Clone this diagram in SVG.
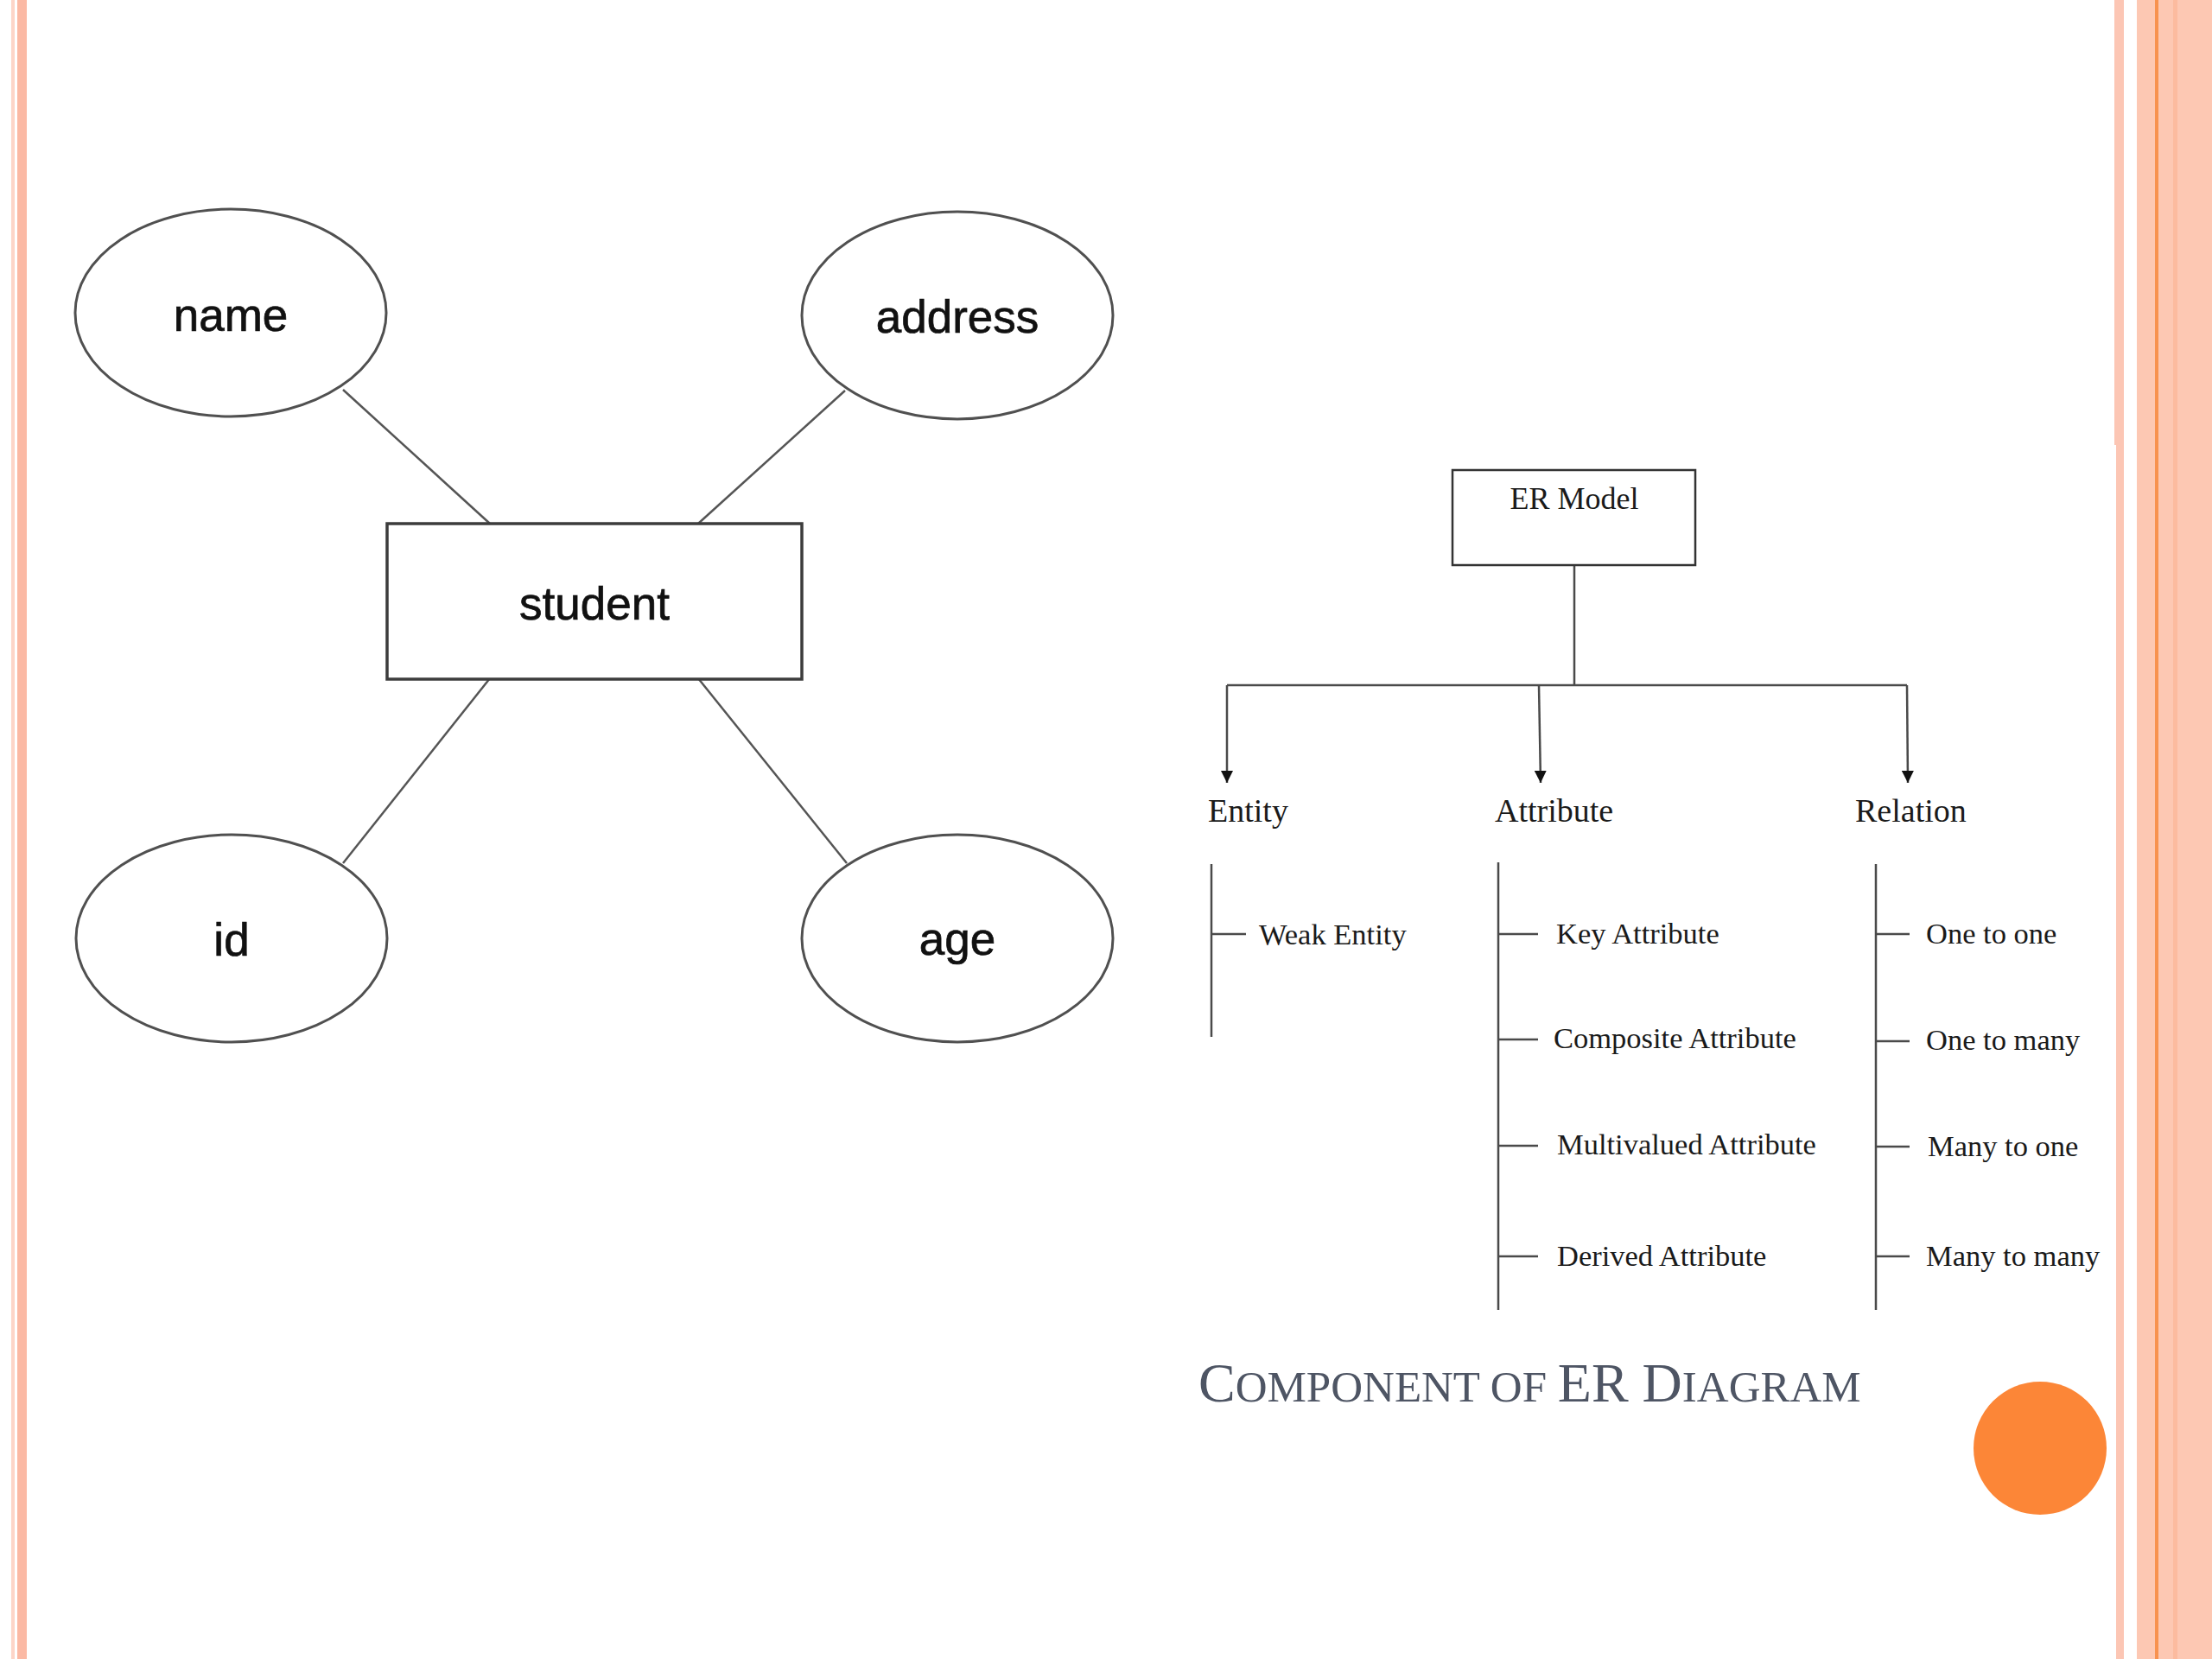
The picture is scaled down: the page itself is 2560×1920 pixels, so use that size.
<svg xmlns="http://www.w3.org/2000/svg" width="2560" height="1920" viewBox="0 0 2560 1920">
<style>
.ell{fill:#fff;stroke:#505050;stroke-width:3}
.box{fill:#fff;stroke:#3c3c3c;stroke-width:3.5}
.sans{font-family:"Liberation Sans",Arial,sans-serif;font-size:53px;fill:#111;stroke:#111;stroke-width:0.7}
.ser{font-family:"Liberation Serif","Times New Roman",serif;fill:#1a1a1a}
.lvl{font-size:38px}
.sub{font-size:34.5px}
.ln{stroke:#4a4a4a;stroke-width:2.5;fill:none}
.er{stroke:#555;stroke-width:2.5;fill:none}
</style>
<defs>
<marker id="ah" viewBox="0 0 14 14" refX="14" refY="7" markerWidth="14" markerHeight="14" markerUnits="userSpaceOnUse" orient="auto">
<path d="M0,0 L14,7 L0,14 z" fill="#111"/>
</marker>
</defs>
<rect width="2560" height="1920" fill="#fff"/>
<g id="borders">
<rect x="13" y="0" width="4" height="1920" fill="#fdd5c8"/>
<rect x="20" y="0" width="11" height="1920" fill="#fbb9a4"/>
<rect x="2447" y="0" width="11" height="515" fill="#fcc6b4"/>
<rect x="2449" y="515" width="9" height="1405" fill="#fcc6b4"/>
<rect x="2473" y="0" width="87" height="1920" fill="#fdc8b3"/>
<rect x="2494" y="0" width="4" height="1920" fill="#f8924f"/>
<rect x="2515" y="0" width="5" height="1920" fill="#fcbb9f"/>
</g>
<g id="er-connectors">
<line class="er" x1="397" y1="451" x2="567" y2="606"/>
<line class="er" x1="978" y1="452" x2="808" y2="606"/>
<line class="er" x1="567" y1="785" x2="397" y2="999"/>
<line class="er" x1="808" y1="785" x2="980" y2="999"/>
</g>
<g id="name"><ellipse class="ell" cx="267" cy="362" rx="180" ry="120"/><text class="sans" x="267" y="383" text-anchor="middle">name</text></g>
<g id="address"><ellipse class="ell" cx="1108" cy="365" rx="180" ry="120"/><text class="sans" x="1108" y="385" text-anchor="middle">address</text></g>
<g id="id"><ellipse class="ell" cx="268" cy="1086" rx="180" ry="120"/><text class="sans" x="268" y="1106" text-anchor="middle">id</text></g>
<g id="age"><ellipse class="ell" cx="1108" cy="1086" rx="180" ry="120"/><text class="sans" x="1108" y="1105" text-anchor="middle">age</text></g>
<g id="student"><rect class="box" x="448" y="606" width="480" height="180"/><text class="sans" x="688" y="717" text-anchor="middle">student</text></g>
<g id="tree-connectors">
<line class="ln" x1="1822" y1="655" x2="1822" y2="793"/>
<path class="ln" d="M1420,793 L2207,793"/>
<path class="ln" d="M1420,793 L1420,906" marker-end="url(#ah)"/>
<path class="ln" d="M1781,793 L1783,906" marker-end="url(#ah)"/>
<path class="ln" d="M2207,793 L2208,906" marker-end="url(#ah)"/>
<line class="ln" x1="1402" y1="1000" x2="1402" y2="1200"/>
<line class="ln" x1="1402" y1="1081" x2="1442" y2="1081"/>
<line class="ln" x1="1734" y1="998" x2="1734" y2="1516"/>
<line class="ln" x1="1734" y1="1081" x2="1780" y2="1081"/>
<line class="ln" x1="1734" y1="1203" x2="1780" y2="1203"/>
<line class="ln" x1="1734" y1="1326" x2="1780" y2="1326"/>
<line class="ln" x1="1734" y1="1454" x2="1780" y2="1454"/>
<line class="ln" x1="2171" y1="1000" x2="2171" y2="1516"/>
<line class="ln" x1="2171" y1="1081" x2="2210" y2="1081"/>
<line class="ln" x1="2171" y1="1205" x2="2210" y2="1205"/>
<line class="ln" x1="2171" y1="1327" x2="2210" y2="1327"/>
<line class="ln" x1="2171" y1="1454" x2="2210" y2="1454"/>
</g>
<g id="er-model"><rect x="1681" y="544" width="281" height="110" fill="#fff" stroke="#333" stroke-width="2.5"/><text class="ser" x="1822" y="589" font-size="36" text-anchor="middle">ER Model</text></g>
<g id="entity"><text class="ser lvl" x="1398" y="951">Entity</text></g>
<g id="attribute"><text class="ser lvl" x="1730" y="951">Attribute</text></g>
<g id="relation"><text class="ser lvl" x="2147" y="951">Relation</text></g>
<g id="weak-entity"><text class="ser sub" x="1457" y="1093">Weak Entity</text></g>
<g id="key-attribute"><text class="ser sub" x="1801" y="1092">Key Attribute</text></g>
<g id="composite-attribute"><text class="ser sub" x="1798" y="1213">Composite Attribute</text></g>
<g id="multivalued-attribute"><text class="ser sub" x="1802" y="1336">Multivalued Attribute</text></g>
<g id="derived-attribute"><text class="ser sub" x="1802" y="1465">Derived Attribute</text></g>
<g id="one-to-one"><text class="ser sub" x="2229" y="1092">One to one</text></g>
<g id="one-to-many"><text class="ser sub" x="2229" y="1215">One to many</text></g>
<g id="many-to-one"><text class="ser sub" x="2231" y="1338">Many to one</text></g>
<g id="many-to-many"><text class="ser sub" x="2229" y="1465">Many to many</text></g>
<g id="title"><text x="1387" y="1622" font-family="'Liberation Serif','Times New Roman',serif" fill="#4e5564" font-size="51"><tspan font-size="64">C</tspan>OMPONENT OF <tspan font-size="64">ER D</tspan>IAGRAM</text></g>
<circle cx="2361" cy="1676" r="77" fill="#fc8637"/>
</svg>
